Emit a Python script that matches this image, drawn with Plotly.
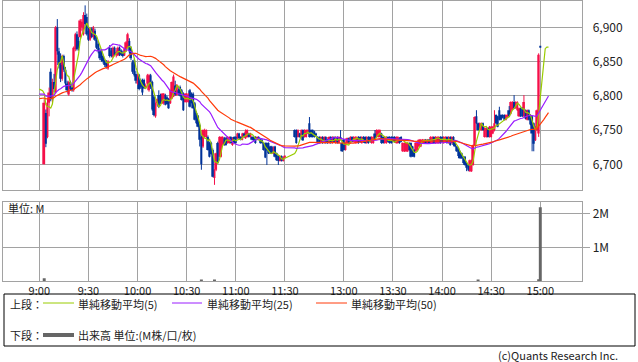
import plotly.graph_objects as go
import pandas as pd

W, H = 638, 362

# ---------------- data ----------------
am_first_time = "9:03"
pm_first_time = "12:30"

am_open = [
    6700, 6775, 6740, 6790, 6835, 6795, 6820, 6805, 6900, 6865,
    6845, 6825, 6858, 6838, 6818, 6802, 6820, 6812, 6808, 6868,
    6890, 6880, 6886, 6900, 6890, 6918, 6915, 6895, 6882, 6898,
    6886, 6895, 6882, 6876, 6865, 6866, 6858, 6852, 6848, 6840,
    6870, 6866, 6857, 6870, 6860, 6859, 6870, 6866, 6862, 6859,
    6866, 6871, 6880, 6870, 6849, 6852, 6832, 6818, 6830, 6822,
    6823, 6823, 6812, 6818, 6808, 6830, 6820, 6799, 6770, 6789,
    6801, 6801, 6789, 6789, 6801, 6798, 6795, 6789, 6796, 6799,
    6815, 6801, 6808, 6813, 6808, 6803, 6791, 6791, 6791, 6808,
    6803, 6803, 6789, 6775, 6770, 6757, 6740, 6726, 6740, 6740,
    6740, 6731, 6731, 6721, 6680, 6692, 6731, 6711, 6711, 6728,
    6738, 6738, 6731, 6731, 6740, 6728, 6740, 6740, 6738, 6745,
    6740, 6736, 6745, 6738, 6740, 6745, 6740, 6740, 6740, 6740,
    6736, 6740, 6736, 6736, 6731, 6731, 6731, 6731, 6726, 6726,
    6716, 6726, 6716, 6712, 6705, 6712, 6705, 6710,
]
am_high = [
    6795, 6780, 6795, 6812, 6840, 6825, 6832, 6902, 6912, 6870,
    6862, 6860, 6860, 6842, 6822, 6822, 6822, 6818, 6872, 6892,
    6894, 6886, 6912, 6912, 6922, 6932, 6920, 6900, 6900, 6900,
    6902, 6898, 6886, 6880, 6870, 6868, 6860, 6854, 6852, 6852,
    6874, 6870, 6872, 6872, 6866, 6872, 6872, 6868, 6866, 6870,
    6880, 6892, 6884, 6872, 6852, 6854, 6836, 6832, 6832, 6825,
    6825, 6825, 6818, 6832, 6832, 6832, 6822, 6801, 6790, 6796,
    6808, 6803, 6804, 6804, 6803, 6800, 6797, 6809, 6821, 6831,
    6822, 6817, 6810, 6815, 6810, 6805, 6804, 6804, 6804, 6810,
    6805, 6805, 6791, 6777, 6772, 6759, 6742, 6751, 6752, 6751,
    6742, 6733, 6733, 6723, 6693, 6717, 6733, 6741, 6741, 6741,
    6740, 6740, 6741, 6741, 6741, 6739, 6741, 6741, 6746, 6746,
    6741, 6746, 6746, 6751, 6751, 6746, 6746, 6741, 6741, 6741,
    6741, 6741, 6737, 6737, 6732, 6732, 6732, 6732, 6727, 6727,
    6726, 6727, 6717, 6713, 6713, 6713, 6711, 6713,
]
am_low = [
    6700, 6725, 6738, 6770, 6792, 6790, 6805, 6803, 6860, 6840,
    6820, 6822, 6835, 6815, 6805, 6800, 6808, 6806, 6806, 6865,
    6866, 6866, 6884, 6895, 6888, 6900, 6888, 6880, 6880, 6884,
    6884, 6880, 6868, 6862, 6852, 6850, 6847, 6842, 6840, 6838,
    6856, 6856, 6855, 6858, 6856, 6858, 6858, 6858, 6856, 6858,
    6864, 6870, 6862, 6852, 6832, 6828, 6818, 6816, 6808, 6810,
    6801, 6810, 6810, 6816, 6806, 6810, 6778, 6770, 6768, 6786,
    6782, 6788, 6788, 6787, 6786, 6787, 6781, 6788, 6795, 6798,
    6800, 6800, 6802, 6799, 6793, 6778, 6790, 6790, 6790, 6783,
    6789, 6781, 6764, 6759, 6754, 6726, 6692, 6724, 6739, 6739,
    6720, 6710, 6714, 6681, 6670, 6690, 6701, 6710, 6710, 6727,
    6727, 6727, 6730, 6730, 6730, 6727, 6730, 6730, 6737, 6737,
    6735, 6735, 6739, 6737, 6739, 6739, 6739, 6735, 6734, 6730,
    6735, 6735, 6730, 6730, 6720, 6709, 6699, 6715, 6715, 6715,
    6715, 6710, 6705, 6699, 6704, 6704, 6704, 6709,
]
am_close = [
    6790, 6730, 6790, 6805, 6795, 6820, 6810, 6900, 6865, 6845,
    6825, 6858, 6838, 6818, 6808, 6820, 6810, 6808, 6870, 6890,
    6868, 6870, 6910, 6908, 6918, 6905, 6890, 6882, 6898, 6886,
    6900, 6882, 6870, 6865, 6855, 6852, 6850, 6845, 6842, 6850,
    6858, 6858, 6870, 6860, 6864, 6870, 6860, 6860, 6858, 6869,
    6878, 6890, 6865, 6855, 6835, 6830, 6822, 6830, 6810, 6812,
    6805, 6811, 6815, 6830, 6830, 6812, 6780, 6772, 6789, 6795,
    6784, 6789, 6803, 6803, 6787, 6788, 6782, 6808, 6820, 6828,
    6802, 6816, 6803, 6800, 6794, 6779, 6803, 6803, 6802, 6784,
    6790, 6782, 6765, 6760, 6755, 6736, 6700, 6750, 6750, 6750,
    6721, 6711, 6715, 6682, 6692, 6716, 6702, 6740, 6740, 6740,
    6728, 6728, 6740, 6740, 6731, 6738, 6731, 6731, 6745, 6738,
    6736, 6745, 6740, 6748, 6750, 6740, 6745, 6736, 6735, 6731,
    6740, 6736, 6731, 6731, 6721, 6710, 6720, 6716, 6716, 6716,
    6725, 6711, 6706, 6705, 6712, 6705, 6710, 6712,
]

pm_open = [
    6750, 6750, 6740, 6745, 6740, 6750, 6740, 6740, 6745, 6760,
    6750, 6750, 6748, 6745, 6740, 6740, 6731, 6740, 6731, 6740,
    6736, 6731, 6740, 6731, 6740, 6731, 6740, 6731, 6740, 6731,
    6736, 6721, 6731, 6738, 6731, 6740, 6733, 6731, 6731, 6740,
    6740, 6731, 6740, 6740, 6731, 6740, 6740, 6731, 6731, 6745,
    6740, 6740, 6740, 6745, 6740, 6731, 6731, 6740, 6740, 6740,
    6740, 6740, 6731, 6731, 6738, 6740, 6719, 6719, 6719, 6719,
    6731, 6731, 6726, 6721, 6719, 6721, 6726, 6726, 6731, 6731,
    6736, 6731, 6736, 6731, 6731, 6740, 6731, 6731, 6731, 6740,
    6740, 6731, 6733, 6740, 6731, 6740, 6731, 6740, 6733, 6726,
    6723, 6719, 6716, 6711, 6711, 6702, 6699, 6690, 6690, 6699,
    6728, 6770, 6760, 6750, 6750, 6760, 6740, 6740, 6753, 6740,
    6740, 6745, 6750, 6772, 6770, 6779, 6772, 6772, 6772, 6765,
    6768, 6779, 6774, 6780, 6791, 6782, 6779, 6770, 6782, 6782,
    6770, 6779, 6765, 6779, 6772, 6770, 6760, 6735, 6750, 6745,
    6872,
]
pm_high = [
    6751, 6751, 6751, 6746, 6751, 6751, 6751, 6751, 6751, 6769,
    6751, 6751, 6749, 6746, 6741, 6741, 6741, 6741, 6741, 6741,
    6737, 6741, 6741, 6741, 6741, 6741, 6741, 6741, 6750, 6736,
    6737, 6732, 6739, 6739, 6741, 6741, 6741, 6741, 6741, 6741,
    6741, 6741, 6741, 6741, 6741, 6741, 6741, 6741, 6741, 6750,
    6751, 6751, 6751, 6746, 6741, 6741, 6741, 6741, 6741, 6741,
    6741, 6741, 6741, 6741, 6739, 6741, 6732, 6732, 6732, 6732,
    6732, 6732, 6727, 6722, 6732, 6732, 6737, 6737, 6737, 6737,
    6737, 6737, 6737, 6741, 6741, 6741, 6741, 6741, 6741, 6741,
    6741, 6741, 6741, 6741, 6741, 6741, 6741, 6741, 6734, 6727,
    6724, 6720, 6717, 6712, 6712, 6703, 6700, 6707, 6707, 6729,
    6770, 6779, 6761, 6761, 6761, 6761, 6754, 6754, 6754, 6756,
    6756, 6756, 6779, 6773, 6771, 6784, 6773, 6773, 6773, 6773,
    6773, 6785, 6792, 6792, 6801, 6792, 6792, 6783, 6783, 6783,
    6801, 6780, 6780, 6780, 6773, 6771, 6761, 6756, 6780, 6862,
    6872,
]
pm_low = [
    6739, 6730, 6739, 6739, 6739, 6734, 6739, 6739, 6744, 6739,
    6739, 6739, 6739, 6741, 6730, 6730, 6730, 6730, 6730, 6730,
    6730, 6730, 6730, 6730, 6732, 6730, 6730, 6730, 6735, 6718,
    6720, 6720, 6730, 6730, 6730, 6732, 6732, 6730, 6730, 6730,
    6732, 6730, 6732, 6730, 6730, 6730, 6732, 6730, 6730, 6735,
    6739, 6739, 6739, 6730, 6730, 6730, 6730, 6732, 6730, 6730,
    6732, 6732, 6730, 6730, 6730, 6732, 6718, 6718, 6718, 6718,
    6720, 6710, 6711, 6710, 6718, 6720, 6725, 6725, 6730, 6730,
    6730, 6730, 6730, 6730, 6730, 6730, 6730, 6730, 6730, 6730,
    6732, 6730, 6732, 6730, 6730, 6727, 6730, 6727, 6725, 6718,
    6709, 6708, 6708, 6701, 6698, 6690, 6690, 6689, 6689, 6698,
    6727, 6759, 6749, 6749, 6749, 6749, 6739, 6739, 6739, 6739,
    6739, 6744, 6748, 6759, 6754, 6764, 6764, 6767, 6764, 6764,
    6767, 6769, 6773, 6779, 6781, 6781, 6778, 6769, 6769, 6769,
    6769, 6766, 6764, 6764, 6757, 6719, 6719, 6734, 6749, 6740,
    6871,
]
pm_close = [
    6740, 6731, 6750, 6740, 6750, 6735, 6750, 6750, 6750, 6740,
    6740, 6740, 6740, 6742, 6731, 6731, 6740, 6731, 6740, 6731,
    6731, 6740, 6731, 6740, 6733, 6740, 6731, 6740, 6736, 6719,
    6721, 6731, 6738, 6731, 6740, 6733, 6740, 6740, 6740, 6731,
    6733, 6740, 6733, 6731, 6740, 6731, 6733, 6740, 6740, 6736,
    6750, 6750, 6750, 6731, 6731, 6740, 6740, 6733, 6731, 6731,
    6733, 6733, 6740, 6740, 6731, 6733, 6731, 6731, 6731, 6731,
    6721, 6711, 6712, 6711, 6731, 6731, 6736, 6736, 6736, 6736,
    6731, 6736, 6731, 6740, 6740, 6731, 6740, 6740, 6740, 6731,
    6733, 6740, 6740, 6731, 6740, 6728, 6740, 6728, 6726, 6719,
    6712, 6709, 6709, 6702, 6699, 6695, 6692, 6706, 6706, 6728,
    6769, 6760, 6750, 6760, 6760, 6750, 6753, 6753, 6740, 6755,
    6755, 6755, 6760, 6760, 6755, 6765, 6765, 6768, 6765, 6772,
    6772, 6770, 6791, 6791, 6782, 6791, 6791, 6782, 6770, 6770,
    6791, 6767, 6779, 6765, 6758, 6745, 6730, 6755, 6779, 6860,
    6871,
]

# closes of the previous session (moving averages start from them)
prev_session_closes = [
    6784, 6786, 6785, 6788, 6790, 6786, 6784, 6788, 6790, 6792,
    6789, 6787, 6785, 6788, 6791, 6793, 6790, 6788, 6786, 6789,
    6792, 6794, 6796, 6798, 6795, 6797, 6799, 6800, 6802, 6798,
    6796, 6799, 6801, 6803, 6800, 6798, 6797, 6800, 6802, 6804,
    6801, 6799, 6802, 6805, 6807, 6810, 6812, 6810, 6812,
]
pre_open_ref = [6805, 6805, 6805]               # 9:00-9:02, before first trade
after_close_ref = [6871, 6871, 6871, 6871, 6871]  # closing price carried after 15:00

volume_times = ["9:03", "10:39", "10:47", "14:22", "14:59", "15:00"]
volume_values = [80000, 30000, 35000, 30000, 50000, 2200000]

time_ticks = ["9:00", "9:30", "10:00", "10:30", "11:00", "11:30",
              "13:00", "13:30", "14:00", "14:30", "15:00"]
price_ticks = [6700, 6750, 6800, 6850, 6900]
volume_ticks = [1000000, 2000000]
volume_tick_labels = ["1M", "2M"]
ma_periods = [5, 25, 50]

# ---------------- styling ----------------
RED = "#f5104a"
BLUE = "#003399"
MA_COLORS = ["#99cc00", "#9a1cff", "#ff3b0a"]
GRID = "#a2a2a2"
TXT = "#222222"
FONT = "Noto Sans CJK JP"
LUNCH_GAP = 6


def slot(t):
    h, m = map(int, t.split(":"))
    mins = h * 60 + m
    if mins <= 11 * 60 + 30:
        return mins - 9 * 60
    return 150 + LUNCH_GAP + mins - (12 * 60 + 30)


am_x = [slot(am_first_time) + i for i in range(len(am_close))]
pm_x = [slot(pm_first_time) + i for i in range(len(pm_close))]
X = am_x + pm_x
O = am_open + pm_open
Hh = am_high + pm_high
L = am_low + pm_low
C = am_close + pm_close

# pixel geometry of the two panels
PL, PR = 3.3, 582.3
UT, UB = 0.7, 190.0
LT, LB = 201.5, 281.0
X0 = 39.3
S = (540.3 - 39.3) / 306.0


def fx(p):
    return p / W


def fy(p):
    return 1 - p / H


xr = [(PL - X0) / S, (PR - X0) / S]
y_per_px = 50 / 34.25
yr = [6700 - (UB - 164.3) * y_per_px, 6900 + (27.3 - UT) * y_per_px]

fig = go.Figure()

for up, col in [(True, RED), (False, BLUE)]:
    idx = [i for i in range(len(C)) if (C[i] > O[i]) == up]
    wx, wy = [], []
    for i in idx:
        wx += [X[i], X[i], None]
        wy += [L[i], Hh[i], None]
    fig.add_trace(go.Scatter(x=wx, y=wy, mode="lines",
                             line=dict(color=col, width=1),
                             xaxis="x", yaxis="y", hoverinfo="skip"))
    fig.add_trace(go.Bar(x=[X[i] for i in idx],
                         y=[max(abs(C[i] - O[i]), 1.2) for i in idx],
                         base=[min(C[i], O[i]) for i in idx],
                         width=1.15, marker=dict(color=col, line=dict(width=0)),
                         xaxis="x", yaxis="y"))

# moving averages
full = prev_session_closes + pre_open_ref + C + after_close_ref
ma_x = ([slot("9:00") + i for i in range(len(pre_open_ref))] + X +
        [slot("15:00") + 1 + i for i in range(len(after_close_ref))])
ser = pd.Series(full, dtype=float)
for n, col in zip(ma_periods, MA_COLORS):
    ma = ser.rolling(n, min_periods=1).mean().iloc[len(prev_session_closes):].tolist()
    fig.add_trace(go.Scatter(x=ma_x, y=ma, mode="lines",
                             line=dict(color=col, width=1.2),
                             xaxis="x", yaxis="y"))

# volume
fig.add_trace(go.Bar(x=[slot(t) for t in volume_times], y=volume_values,
                     width=1.8, marker=dict(color="#666666", line=dict(width=0)),
                     xaxis="x2", yaxis="y2"))

tick_slots = [slot(t) for t in time_ticks]
axis_common = dict(showline=True, mirror=True, linecolor=GRID, linewidth=1,
                   showgrid=True, gridcolor=GRID, gridwidth=1, zeroline=False,
                   fixedrange=True)

fig.update_layout(
    width=W, height=H, margin=dict(l=0, r=0, t=0, b=0),
    paper_bgcolor="white", plot_bgcolor="white", showlegend=False,
    barmode="overlay", font=dict(family=FONT, size=11, color=TXT),
    xaxis=dict(domain=[fx(PL), fx(PR)], range=xr, anchor="y",
               tickvals=tick_slots, showticklabels=False, ticks="", **axis_common),
    yaxis=dict(domain=[fy(UB), fy(UT)], range=yr, anchor="x", side="right",
               tickvals=price_ticks, ticktext=[f"{v:,}" for v in price_ticks],
               ticks="outside", ticklen=7, tickcolor="rgba(0,0,0,0)",
               tickfont=dict(size=12, color=TXT, family=FONT), **axis_common),
    xaxis2=dict(domain=[fx(PL), fx(PR)], range=xr, anchor="y2",
                tickvals=tick_slots, ticktext=time_ticks, ticks="",
                tickfont=dict(size=11, color=TXT, family=FONT), **axis_common),
    yaxis2=dict(domain=[fy(LB), fy(LT)], range=[0, 2.37e6], anchor="x2", side="right",
                tickvals=volume_ticks, ticktext=volume_tick_labels,
                ticks="outside", ticklen=7, tickcolor=GRID,
                tickfont=dict(size=12, color=TXT, family=FONT), **axis_common),
)

shapes = [
    dict(type="rect", xref="paper", yref="paper", x0=fx(4), x1=fx(635),
         y0=fy(346), y1=fy(294), line=dict(color="black", width=1)),
    dict(type="line", xref="paper", yref="paper", x0=fx(43), x1=fx(74),
         y0=fy(303), y1=fy(303), line=dict(color=MA_COLORS[0], width=1)),
    dict(type="line", xref="paper", yref="paper", x0=fx(172), x1=fx(202),
         y0=fy(303), y1=fy(303), line=dict(color=MA_COLORS[1], width=1)),
    dict(type="line", xref="paper", yref="paper", x0=fx(316), x1=fx(347),
         y0=fy(303), y1=fy(303), line=dict(color=MA_COLORS[2], width=1)),
    dict(type="line", xref="paper", yref="paper", x0=fx(43), x1=fx(74),
         y0=fy(335), y1=fy(335), line=dict(color="#666666", width=4)),
]
fig.update_layout(shapes=shapes)


def note(text, x, y, anchor="left", size=11):
    fig.add_annotation(text=text, xref="paper", yref="paper", x=fx(x), y=fy(y),
                       xanchor=anchor, yanchor="middle", showarrow=False,
                       borderpad=0,
                       font=dict(family=FONT, size=size, color=TXT))


note("単位: M", 7, 208)
note("上段：", 9, 303.5)
note(f"単純移動平均({ma_periods[0]})", 77, 303.5)
note(f"単純移動平均({ma_periods[1]})", 206, 303.5)
note(f"単純移動平均({ma_periods[2]})", 350, 303.5)
note("下段：", 9, 335)
note("出来高 単位:(M株/口/枚)", 77, 335)
note("(c)Quants Research Inc.", 619, 354.5, anchor="right")

fig.write_html("out.html",
               config={"displayModeBar": False},
               post_script="document.body.style.margin='0';document.body.style.overflow='hidden';")
